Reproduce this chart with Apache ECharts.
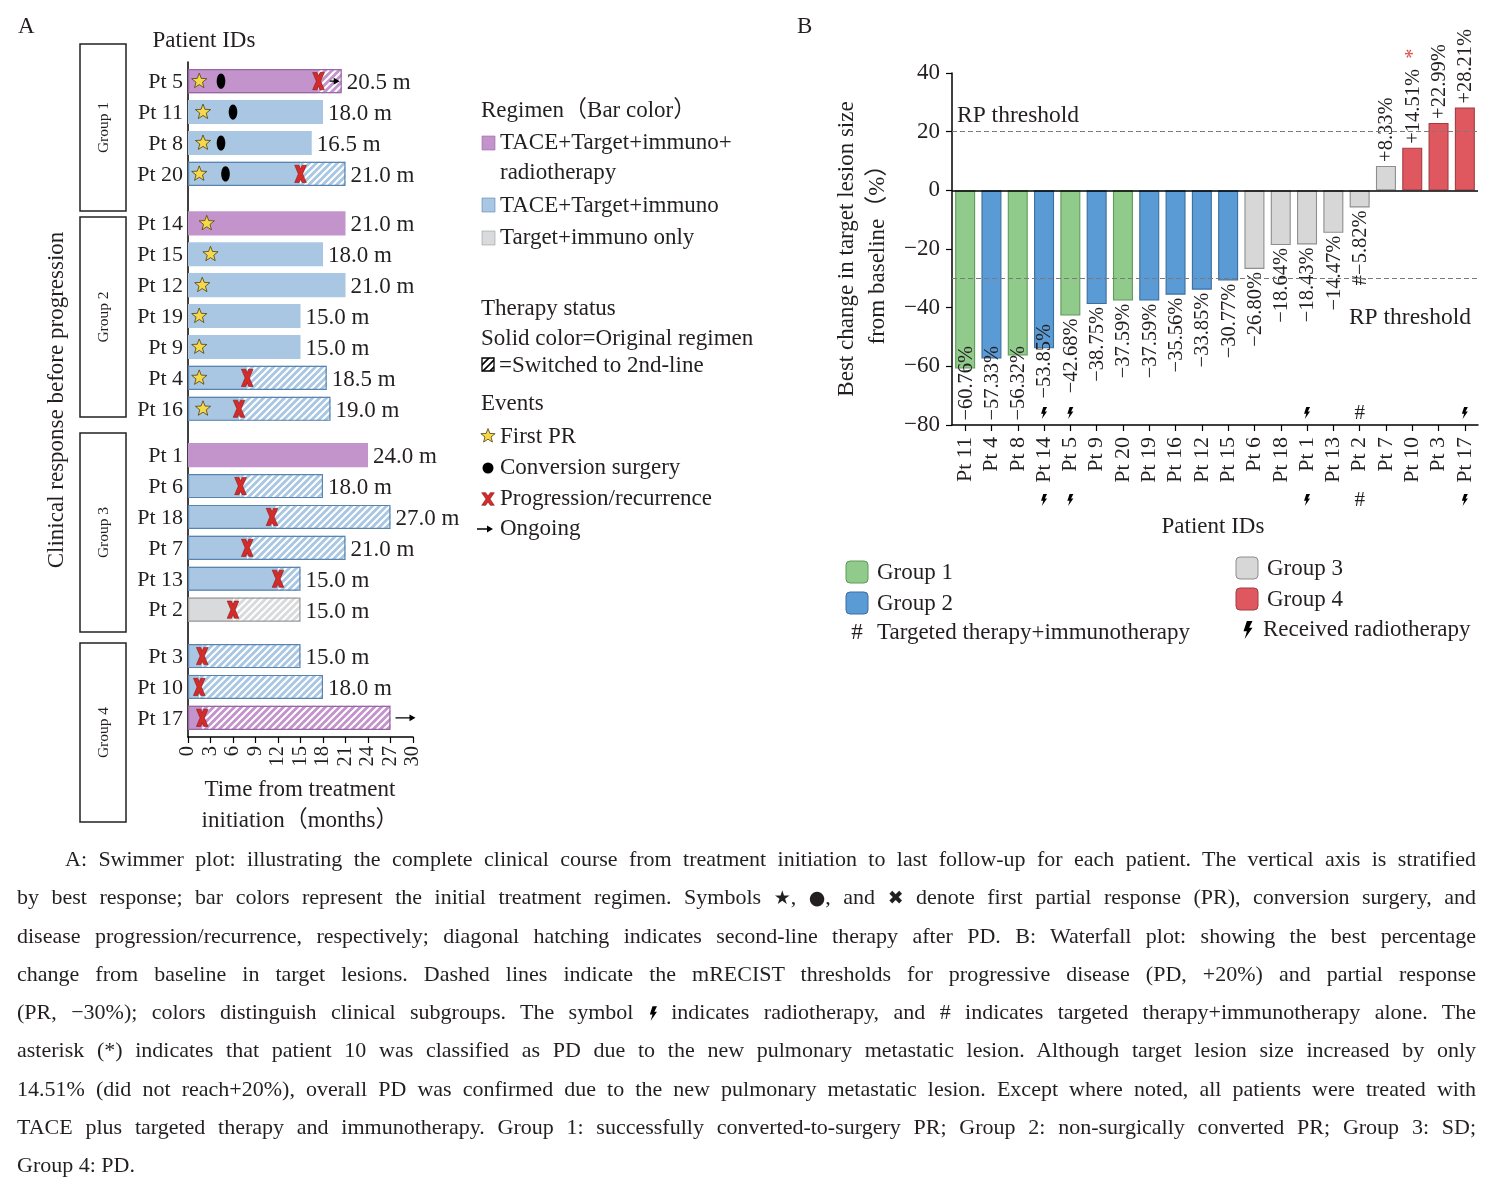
<!DOCTYPE html>
<html>
<head>
<meta charset="utf-8">
<script src="https://cdn.jsdelivr.net/npm/echarts@6/dist/echarts.min.js"></script>
<style>
html,body{margin:0;padding:0;background:#fff;}
#chart{position:absolute;left:0;top:0;width:1496px;height:1185px;}
#caption{position:absolute;left:17px;top:840px;width:1459px;font-family:'Liberation Serif','Times New Roman','Noto Sans CJK SC',serif;font-size:22px;color:#231f20;line-height:38.25px;z-index:2;}
#caption div{white-space:nowrap;}
#caption .sym{font-family:'DejaVu Sans',sans-serif;font-size:19px;}
</style>
</head>
<body>
<div id="chart"></div>
<div id="caption">
<div data-indent="48">A: Swimmer plot: illustrating the complete clinical course from treatment initiation to last follow-up for each patient. The vertical axis is stratified</div>
<div>by best response; bar colors represent the initial treatment regimen. Symbols <span class="sym">★</span>, <span class="sym">●</span>, and <span class="sym">✖</span> denote first partial response (PR), conversion surgery, and</div>
<div>disease progression/recurrence, respectively; diagonal hatching indicates second-line therapy after PD. B: Waterfall plot: showing the best percentage</div>
<div>change from baseline in target lesions. Dashed lines indicate the mRECIST thresholds for progressive disease (PD, +20%) and partial response</div>
<div>(PR, −30%); colors distinguish clinical subgroups. The symbol <svg width="9" height="15" viewBox="0 0 10 16" style="vertical-align:-2px"><path d="M5,0 L10,0 L7,6 L10,6 L3,16 L5,9 L2,9 Z" fill="#000"/></svg> indicates radiotherapy, and # indicates targeted therapy+immunotherapy alone. The</div>
<div>asterisk (*) indicates that patient 10 was classified as PD due to the new pulmonary metastatic lesion. Although target lesion size increased by only</div>
<div>14.51% (did not reach+20%), overall PD was confirmed due to the new pulmonary metastatic lesion. Except where noted, all patients were treated with</div>
<div>TACE plus targeted therapy and immunotherapy. Group 1: successfully converted-to-surgery PR; Group 2: non-surgically converted PR; Group 3: SD;</div>
<div class="last">Group 4: PD.</div>
</div>
<script>
// ---------------- Panel A data (swimmer plot) ----------------
const swPatients = ['Pt 5','Pt 11','Pt 8','Pt 20','Pt 14','Pt 15','Pt 12','Pt 19','Pt 9','Pt 4','Pt 16','Pt 1','Pt 6','Pt 18','Pt 7','Pt 13','Pt 2','Pt 3','Pt 10','Pt 17'];
const swGroup = [1,1,1,1,2,2,2,2,2,2,2,3,3,3,3,3,3,4,4,4];
const swRegimen = ['R','T','T','T','R','T','T','T','T','T','T','R','T','T','T','T','O','T','T','R'];
const swDuration = [20.5,18,16.5,21,21,18,21,15,15,18.5,19,24,18,27,21,15,15,15,18,27];
const swDurationLabel = ['20.5 m','18.0 m','16.5 m','21.0 m','21.0 m','18.0 m','21.0 m','15.0 m','15.0 m','18.5 m','19.0 m','24.0 m','18.0 m','27.0 m','21.0 m','15.0 m','15.0 m','15.0 m','18.0 m',null];
const swFirstPR = [1.5,2,2,1.5,2.5,3,1.9,1.5,1.5,1.5,2,null,null,null,null,null,null,null,null,null];
const swSurgery = [4.4,6,4.4,5,null,null,null,null,null,null,null,null,null,null,null,null,null,null,null,null];
const swProgression = [17.4,null,null,15,null,null,null,null,null,7.9,6.8,null,7,11.2,7.9,12,6,1.9,1.5,1.9];
const swOngoing = [true,false,false,false,false,false,false,false,false,false,false,false,false,false,false,false,false,false,false,true];
const swGroupNames = ['Group 1','Group 2','Group 3','Group 4'];

// ---------------- Panel B data (waterfall plot) ----------------
const wfPatients = ['Pt 11','Pt 4','Pt 8','Pt 14','Pt 5','Pt 9','Pt 20','Pt 19','Pt 16','Pt 12','Pt 15','Pt 6','Pt 18','Pt 1','Pt 13','Pt 2','Pt 7','Pt 10','Pt 3','Pt 17'];
const wfValues = [-60.76,-57.33,-56.32,-53.85,-42.68,-38.75,-37.59,-37.59,-35.56,-33.85,-30.77,-26.80,-18.64,-18.43,-14.47,-5.82,8.33,14.51,22.99,28.21];
const wfGroup = [1,2,1,2,1,2,1,2,2,2,2,3,3,3,3,3,3,4,4,4];
const wfRadiotherapy = ['Pt 14','Pt 5','Pt 1','Pt 17'];
const wfTargetOnly = ['Pt 2'];
const wfAsterisk = ['Pt 10'];
const wfThresholds = [20, -30];

// ---------------- caption justification ----------------
(function justifyCaption() {
  const FULL = 1459;
  document.querySelectorAll('#caption div').forEach(d => {
    const indent = parseFloat(d.dataset.indent || 0);
    d.style.paddingLeft = indent + 'px';
    if (d.classList.contains('last')) return;
    const span = document.createElement('span');
    while (d.firstChild) span.appendChild(d.firstChild);
    d.appendChild(span);
    const w = span.getBoundingClientRect().width;
    const n = (span.textContent.match(/ /g) || []).length;
    if (n > 0) d.style.wordSpacing = ((FULL - indent - w) / n) + 'px';
  });
})();

// ---------------- styles ----------------
const FONT = "'Liberation Serif','Times New Roman','Noto Sans CJK SC',serif";
const TXT = '#231f20';
const REG = {
  R: {fill:'#c394cc', stroke:'#9866a3'},
  T: {fill:'#a9c7e3', stroke:'#5a84b0'},
  O: {fill:'#d9dadc', stroke:'#9a9a9a'}
};
const WF = {
  1: {fill:'#91cb8c', stroke:'#5f9a5a'},
  2: {fill:'#5b9bd5', stroke:'#3a6e9f'},
  3: {fill:'#d7d7d7', stroke:'#8e8e8e'},
  4: {fill:'#e0585f', stroke:'#a23c42'}
};
function makeHatch(bg, line, lw) {
  const c = document.createElement('canvas'); c.width = 7; c.height = 7;
  const x = c.getContext('2d');
  if (bg) { x.fillStyle = bg; x.fillRect(0,0,7,7); }
  x.strokeStyle = line; x.lineWidth = lw;
  x.beginPath();
  x.moveTo(-1,8); x.lineTo(8,-1);
  x.moveTo(-1,1); x.lineTo(1,-1);
  x.moveTo(6,8); x.lineTo(8,6);
  x.stroke();
  return {type:'pattern', image:c, repeat:'repeat'};
}
const HATCH = {R: makeHatch(REG.R.fill,'#ffffff',2), T: makeHatch(REG.T.fill,'#ffffff',2), O: makeHatch(REG.O.fill,'#ffffff',2)};
const HATCH_BLACK = makeHatch('#ffffff','#000000',1.6);

function starPts(cx, cy, R, r) {
  const p = [];
  for (let k = 0; k < 10; k++) {
    const a = -Math.PI/2 + k*Math.PI/5, rad = k % 2 ? r : R;
    p.push([cx + rad*Math.cos(a), cy + rad*Math.sin(a)]);
  }
  return p;
}
function crossPts(cx, cy, w, hh, t) {
  const a = hh*t/(2*w - t);
  return [[-w,-hh],[-w+t,-hh],[0,-a],[w-t,-hh],[w,-hh],[t/2,0],[w,hh],[w-t,hh],[0,a],[-w+t,hh],[-w,hh],[-t/2,0]]
    .map(q => [cx+q[0], cy+q[1]]);
}
// arrow as a single polygon: shaft + head
function arrowPts(x1, x2, y) {
  const s = 0.7, hw = 3.4, hl = 6;
  return [[x1,y-s],[x2-hl,y-s],[x2-hl,y-hw],[x2,y],[x2-hl,y+hw],[x2-hl,y+s],[x1,y+s]];
}
const BOLT_PTS = [[5,0],[10,0],[7,6],[10,6],[3,16],[5,9],[2,9]];
function boltPts(cx, cy, h) {
  const k = h / 16;
  return BOLT_PTS.map(p => [cx + (p[0]-6)*k, cy + (p[1]-8)*k]);
}
const STAR_STYLE = {fill:'#f6d84a', stroke:'#4d4010', lineWidth:0.8};
const CROSS_STYLE = {fill:'#d42b2b', stroke:'#8a1616', lineWidth:0.6};

// vertical layout of swimmer rows: extra spacing between response groups
const GROUP_GAP = {1:0, 2:0.6, 3:1.1, 4:1.6};
const swPos = swPatients.map((p, i) => i + GROUP_GAP[swGroup[i]]);

function renderSwimmer(params, api) {
  const i = params.dataIndex;
  const pos = api.value(0);
  const h = api.size([0, 0.78])[1];
  const c0 = api.coord([0, pos]);
  const x0 = c0[0], yc = c0[1];
  const xe = api.coord([swDuration[i], pos])[0];
  const prog = swProgression[i];
  const xp = prog != null ? api.coord([prog, pos])[0] : xe;
  const key = swRegimen[i], reg = REG[key];
  const top = yc - h/2;
  const ch = [];
  ch.push({type:'rect', shape:{x:x0, y:top, width:xp-x0, height:h}, style:{fill:reg.fill}});
  if (prog != null) {
    ch.push({type:'rect', shape:{x:xp, y:top, width:xe-xp, height:h}, style:{fill:HATCH[key]}});
    ch.push({type:'rect', shape:{x:x0+0.6, y:top+0.6, width:xe-x0-1.2, height:h-1.2}, style:{fill:'none', stroke:reg.stroke, lineWidth:1.2}});
  }
  if (swFirstPR[i] != null) {
    const xs = api.coord([swFirstPR[i], pos])[0];
    ch.push({type:'polygon', shape:{points:starPts(xs, yc, 8, 3.4)}, style:STAR_STYLE});
  }
  if (swSurgery[i] != null) {
    const xs = api.coord([swSurgery[i], pos])[0];
    ch.push({type:'ellipse', shape:{cx:xs, cy:yc, rx:4.3, ry:7.6}, style:{fill:'#000'}});
  }
  if (prog != null) {
    ch.push({type:'polygon', shape:{points:crossPts(xp, yc, 5.8, 8.6, 4.3)}, style:CROSS_STYLE});
  }
  const lab = swDurationLabel[i];
  if (swOngoing[i]) {
    const pts = lab ? arrowPts(xe-12, xe-2, yc) : arrowPts(xe+5, xe+25, yc);
    ch.push({type:'polygon', shape:{points:pts}, style:{fill:'#000'}});
  }
  if (lab) {
    ch.push({type:'text', x:xe+5, y:yc+2, style:{text:lab, fill:TXT, fontSize:23, fontFamily:FONT, align:'left', verticalAlign:'middle'}});
  }
  ch.push({type:'text', x:x0-5, y:yc+1, style:{text:swPatients[i], fill:TXT, fontSize:22, fontFamily:FONT, align:'right', verticalAlign:'middle'}});
  return {type:'group', children:ch};
}

const mctx = document.createElement('canvas').getContext('2d');
function textW(s, size) { mctx.font = size + 'px ' + FONT; return mctx.measureText(s).width; }
function fmtPct(v) { return (v > 0 ? '+' : '−') + Math.abs(v).toFixed(2) + '%'; }

function renderWfLabel(params, api) {
  const i = params.dataIndex;
  const v = wfValues[i], name = wfPatients[i];
  const c = api.coord([i, v]);
  let text = fmtPct(v);
  if (wfTargetOnly.includes(name)) text = '#' + text;
  const marked = wfRadiotherapy.includes(name) || wfTargetOnly.includes(name);
  if (v < 0) {
    const limitPx = api.coord([i, marked ? -71 : -78.5])[1];
    const w = textW(text, 20.5);
    const y = Math.min(c[1] + 3, limitPx - w);
    return {type:'text', x:c[0]+1, y:y, rotation:Math.PI/2,
      style:{text:text, fill:TXT, fontSize:20.5, fontFamily:FONT, align:'right', verticalAlign:'middle'}};
  }
  const star = wfAsterisk.includes(name);
  return {type:'text', x:c[0]+1, y:c[1]-4, rotation:Math.PI/2,
    style:{text: star ? text + '  {s|*}' : text, fill:TXT, fontSize:20.5, fontFamily:FONT, align:'left', verticalAlign:'middle',
      rich:{s:{fill:'#d9534f', fontSize:20.5, fontFamily:FONT}}}};
}

const chart = echarts.init(document.getElementById('chart'), null, {renderer:'canvas'});

const dashStyle = {color:'#7a7a7a', width:1.2, type:[5,3]};
const option = {
  animation:false,
  backgroundColor:'#ffffff',
  textStyle:{fontFamily:FONT, color:TXT},
  grid:[
    {left:188, top:62, width:225, height:675},
    {left:952, top:73, width:526, height:352}
  ],
  xAxis:[
    {type:'value', gridIndex:0, min:0, max:30, interval:3,
      axisLine:{show:true, onZero:false, lineStyle:{color:'#000', width:1.5}},
      axisTick:{show:true, length:6, lineStyle:{color:'#000', width:1.2}},
      axisLabel:{rotate:90, fontSize:20.5, color:TXT, fontFamily:FONT, margin:9},
      splitLine:{show:false}},
    {type:'category', gridIndex:1, data:wfPatients,
      axisLine:{show:true, onZero:false, lineStyle:{color:'#000', width:1.5}},
      axisTick:{show:true, alignWithLabel:true, length:6, lineStyle:{color:'#000', width:1.2}},
      axisLabel:{rotate:90, interval:0, fontSize:22, color:TXT, fontFamily:FONT, margin:12},
      splitLine:{show:false}}
  ],
  yAxis:[
    {type:'value', gridIndex:0, inverse:true, min:-0.62, max:21.22,
      axisLine:{show:true, onZero:false, lineStyle:{color:'#000', width:1.5}},
      axisTick:{show:false}, axisLabel:{show:false}, splitLine:{show:false}},
    {type:'value', gridIndex:1, min:-80, max:40, interval:20,
      axisLine:{show:true, onZero:false, lineStyle:{color:'#000', width:1.5}},
      axisTick:{show:true, length:6, lineStyle:{color:'#000', width:1.2}},
      axisLabel:{fontSize:23, color:TXT, fontFamily:FONT, margin:12, formatter: v => v < 0 ? '−' + (-v) : String(v)},
      splitLine:{show:false}}
  ],
  series:[
    {type:'custom', name:'swimmer', xAxisIndex:0, yAxisIndex:0, clip:false,
      data: swPos.map((p, i) => [p, swDuration[i]]), encode:{x:1, y:0},
      renderItem: renderSwimmer, silent:true, z:3},
    {type:'bar', name:'waterfall', xAxisIndex:1, yAxisIndex:1, barWidth:20,
      data: wfValues.map((v, i) => ({value:v, itemStyle:{color:WF[wfGroup[i]].fill, borderColor:WF[wfGroup[i]].stroke, borderWidth:1.1}})),
      silent:true, z:2,
      markLine:{silent:true, symbol:['none','none'], animation:false,
        data:[
          {yAxis:0, lineStyle:{color:'#000', width:1.6, type:'solid'}, label:{show:false}},
          {yAxis:wfThresholds[0], lineStyle:dashStyle,
            label:{show:true, position:'insideStartTop', formatter:'RP threshold', fontSize:23.5, color:TXT, fontFamily:FONT, distance:[5,4]}},
          {yAxis:wfThresholds[1], lineStyle:dashStyle,
            label:{show:true, position:'insideEndBottom', formatter:'RP threshold', fontSize:23.5, color:TXT, fontFamily:FONT, distance:[7,28]}}
        ]}},
    {type:'custom', name:'wfLabels', xAxisIndex:1, yAxisIndex:1, clip:false,
      data: wfValues.map((v, i) => [i, v]), encode:{x:0, y:1},
      renderItem: renderWfLabel, silent:true, z:4}
  ]
};
chart.setOption(option);

// ---------------- annotations / legends ----------------
const G = [];
function txt(text, x, y, o) {
  o = o || {};
  const style = {text:text, fill:o.fill || TXT, fontSize:o.size || 23, fontFamily:FONT, align:o.align || 'left', verticalAlign:'middle'};
  if (o.lineHeight) style.lineHeight = o.lineHeight;
  G.push({type:'text', x:x, y:y, rotation:o.rotation || 0, silent:true, z:10, style:style});
}
txt('A', 18, 27);
txt('B', 797, 27);
txt('Patient IDs', 204, 41, {align:'center'});
txt('Clinical response before progression', 57, 400, {align:'center', rotation:Math.PI/2});
txt('Time from treatment', 300, 790, {align:'center'});
txt('initiation（months）', 300, 821, {align:'center'});

// group boxes
const boxes = [[44,211],[217,417],[433,632],[643,822]];
boxes.forEach((b, k) => {
  G.push({type:'rect', silent:true, z:10, shape:{x:80, y:b[0], width:46, height:b[1]-b[0]}, style:{fill:'none', stroke:'#222', lineWidth:1.5}});
  txt(swGroupNames[k], 104, (b[0]+b[1])/2, {align:'center', rotation:Math.PI/2, size:15.5});
});

// Panel A legend
txt('Regimen（Bar color）', 481, 111);
G.push({type:'rect', z:10, shape:{x:482, y:136, width:13, height:14}, style:{fill:REG.R.fill, stroke:REG.R.stroke, lineWidth:0.6}});
txt('TACE+Target+immuno+', 500, 143);
txt('radiotherapy', 500, 173);
G.push({type:'rect', z:10, shape:{x:482, y:198, width:13, height:14}, style:{fill:REG.T.fill, stroke:REG.T.stroke, lineWidth:0.6}});
txt('TACE+Target+immuno', 500, 206);
G.push({type:'rect', z:10, shape:{x:482, y:231, width:13, height:14}, style:{fill:REG.O.fill, stroke:REG.O.stroke, lineWidth:0.6}});
txt('Target+immuno only', 500, 238);
txt('Therapy status', 481, 309);
txt('Solid color=Original regimen', 481, 339);
G.push({type:'rect', z:10, shape:{x:482, y:358, width:12, height:13}, style:{fill:HATCH_BLACK, stroke:'#000', lineWidth:1.3}});
txt('=Switched to 2nd-line', 499, 366);
txt('Events', 481, 404);
G.push({type:'polygon', z:10, shape:{points:starPts(488, 436, 7.5, 3.2)}, style:STAR_STYLE});
txt('First PR', 500, 437);
G.push({type:'circle', z:10, shape:{cx:488, cy:468, r:5.5}, style:{fill:'#000'}});
txt('Conversion surgery', 500, 468);
G.push({type:'polygon', z:10, shape:{points:crossPts(488, 499, 6.3, 6.3, 4)}, style:CROSS_STYLE});
txt('Progression/recurrence', 500, 499);
G.push({type:'polygon', z:10, shape:{points:arrowPts(477, 493, 529)}, style:{fill:'#000'}});
txt('Ongoing', 500, 529);

// Panel B axis title + legend
txt('Best change in target lesion size\nfrom baseline（%）', 862, 249, {align:'center', rotation:Math.PI/2, lineHeight:31});
txt('Patient IDs', 1213, 527, {align:'center'});
const legB = [[846,561,1,'Group 1'],[846,592,2,'Group 2'],[1236,557,3,'Group 3'],[1236,588,4,'Group 4']];
legB.forEach(l => {
  G.push({type:'rect', z:10, shape:{x:l[0], y:l[1], width:22, height:22, r:4}, style:{fill:WF[l[2]].fill, stroke:WF[l[2]].stroke, lineWidth:1}});
  txt(l[3], l[0] + 31, l[1] + 12);
});
txt('#', 857, 633, {align:'center'});
txt('Targeted therapy+immunotherapy', 877, 633);
G.push({type:'polygon', z:10, shape:{points:boltPts(1248, 630, 18)}, style:{fill:'#000'}});
txt('Received radiotherapy', 1263, 630);

// markers above and below the waterfall x axis
const yBottom = chart.convertToPixel({yAxisIndex:1}, -80);
wfPatients.forEach((name, i) => {
  const x = chart.convertToPixel({xAxisIndex:1}, i);
  [yBottom - 12, yBottom + 75].forEach(y => {
    if (wfRadiotherapy.includes(name)) {
      G.push({type:'polygon', z:10, shape:{points:boltPts(x, y, 12)}, style:{fill:'#000'}});
    } else if (wfTargetOnly.includes(name)) {
      txt('#', x, y, {align:'center', size:21});
    }
  });
});

chart.setOption({graphic:{elements:G}});
</script>
</body>
</html>
